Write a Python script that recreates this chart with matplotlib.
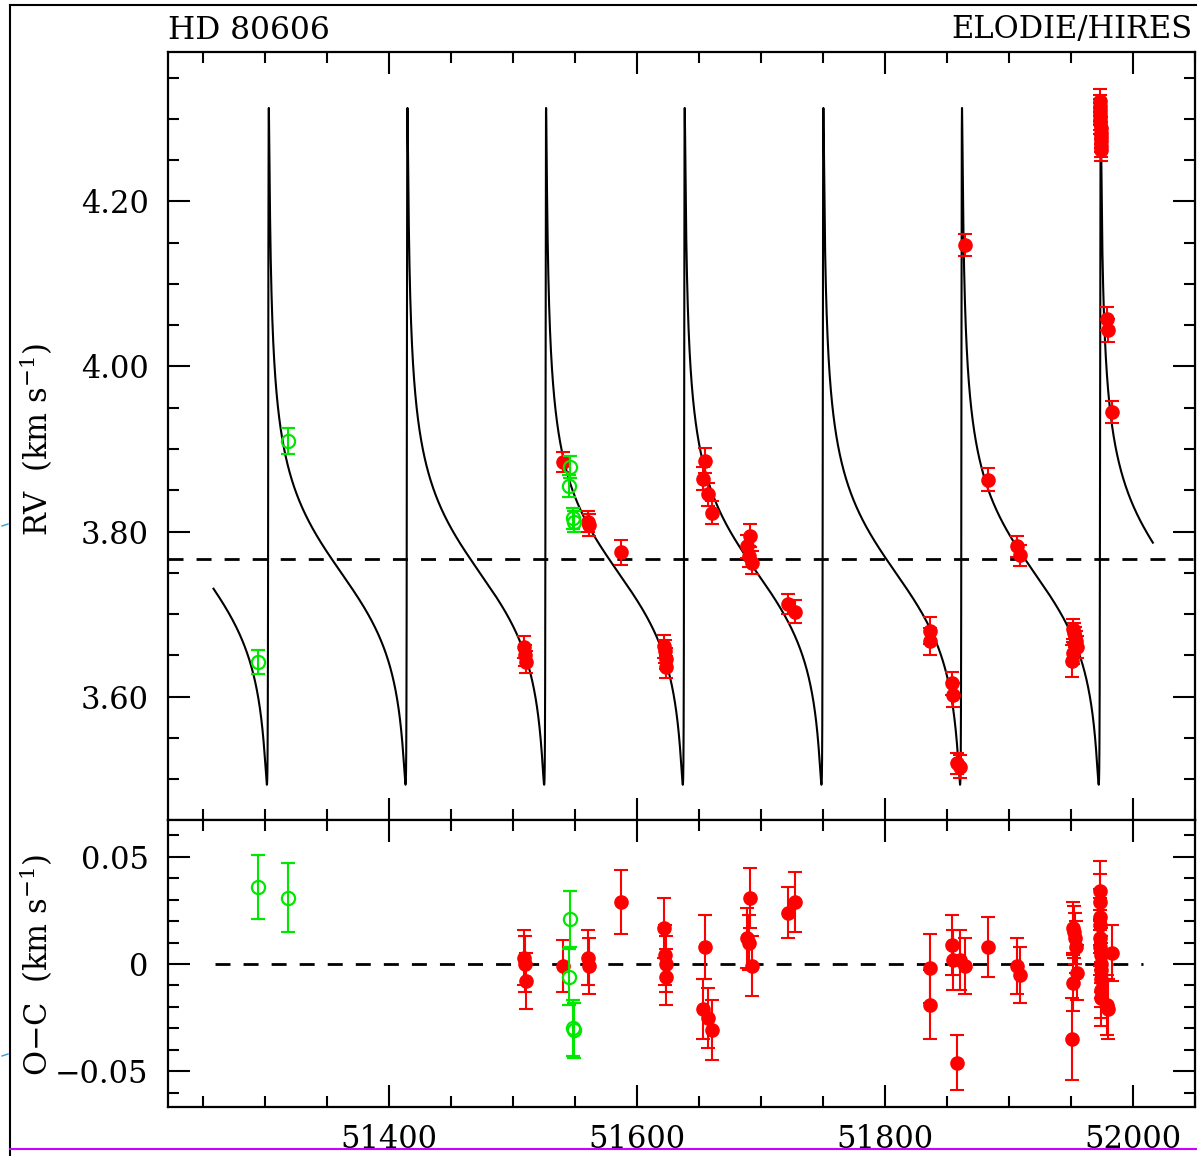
import numpy as np
import matplotlib.pyplot as plt
from matplotlib.lines import Line2D
from matplotlib.ticker import MultipleLocator, FixedLocator, FixedFormatter

plt.rcParams['font.family'] = ['DejaVu Serif']
plt.rcParams['mathtext.fontset'] = 'dejavuserif'

# orbital solution
period = 111.8
ecc = 0.927
omega_deg = 291.0
k_amp = 0.41
t_peri = 51302.7
v_sys = 3.767
model_start = 51258.5
model_end = 52016.0

# ELODIE (open green)
elodie_t = [51294.0, 51318.5, 51546.0, 51545.0, 51548.0, 51549.5]
elodie_rv = [3.642, 3.910, 3.878, 3.855, 3.816, 3.812]
elodie_err = [0.015, 0.016, 0.013, 0.013, 0.013, 0.013]
elodie_oc = [0.036, 0.031, 0.021, -0.006, -0.030, -0.031]

# HIRES (filled red)
hires_t = [51509.0, 51509.8, 51510.5, 51540.3, 51560.5, 51561.0, 51587.1,
           51621.5, 51622.3, 51623.0, 51623.8,
           51654.8, 51653.2, 51657.3, 51660.5,
           51691.1, 51688.7, 51690.3, 51692.7, 51721.8, 51727.4,
           51836.3, 51836.0, 51854.0, 51854.8, 51858.1, 51860.5, 51864.5,
           51883.1, 51906.5, 51908.9,
           51951.6, 51952.4, 51953.2, 51954.0, 51954.8, 51951.8, 51950.8,
           51973.2, 51973.3, 51973.4, 51973.5, 51973.6, 51973.7,
           51973.8, 51973.9, 51974.0, 51974.1, 51974.2, 51974.3,
           51979.0, 51979.8, 51983.1]
hires_rv = [3.660, 3.650, 3.642, 3.884, 3.812, 3.808, 3.775,
            3.661, 3.655, 3.646, 3.636,
            3.886, 3.864, 3.845, 3.823,
            3.795, 3.782, 3.770, 3.762, 3.712, 3.703,
            3.680, 3.667, 3.616, 3.602, 3.519, 3.515, 4.147,
            3.863, 3.782, 3.771,
            3.682, 3.677, 3.672, 3.667, 3.660, 3.653, 3.643,
            4.322, 4.316, 4.311, 4.306, 4.300, 4.295,
            4.289, 4.283, 4.278, 4.273, 4.267, 4.262,
            4.058, 4.044, 3.945]
hires_err = [0.013, 0.013, 0.013, 0.012, 0.013, 0.013, 0.015,
             0.014, 0.014, 0.013, 0.013,
             0.015, 0.014, 0.014, 0.014,
             0.014, 0.014, 0.013, 0.014, 0.012, 0.014,
             0.016, 0.016, 0.014, 0.014, 0.013, 0.014, 0.013,
             0.014, 0.013, 0.013,
             0.012, 0.012, 0.012, 0.012, 0.013, 0.013, 0.019,
             0.014, 0.013, 0.013, 0.013, 0.013, 0.013,
             0.013, 0.013, 0.013, 0.013, 0.013, 0.013,
             0.014, 0.014, 0.013]
hires_oc = [0.003, 0.000, -0.008, -0.001, 0.003, -0.001, 0.029,
            0.017, 0.004, 0.000, -0.006,
            0.008, -0.021, -0.025, -0.031,
            0.031, 0.012, 0.010, -0.001, 0.024, 0.029,
            -0.002, -0.019, 0.009, 0.002, -0.046, 0.002, -0.001,
            0.008, -0.001, -0.005,
            0.017, 0.015, 0.012, 0.008, -0.004, -0.009, -0.035,
            0.034, 0.029, 0.022, 0.018, 0.012, 0.008,
            0.004, 0.000, -0.003, -0.007, -0.012, -0.016,
            -0.019, -0.021, 0.005]

rv_ticks = [3.60, 3.80, 4.00, 4.20]
oc_ticks = [-0.05, 0.0, 0.05]
oc_labels = ['\u22120.05', '0', '0.05']
day_ticks = [51400, 51600, 51800, 52000]

RED = '#ff0000'
GREEN = '#00e800'


def kepler_rv(t):
    m = 2 * np.pi * (t - t_peri) / period
    m = (m + np.pi) % (2 * np.pi) - np.pi
    e_anom = m + 0.85 * ecc * np.sign(np.sin(m))
    for _ in range(60):
        f = e_anom - ecc * np.sin(e_anom) - m
        e_anom = e_anom - f / (1 - ecc * np.cos(e_anom))
    nu = 2 * np.arctan(np.sqrt((1 + ecc) / (1 - ecc)) * np.tan(e_anom / 2))
    w = np.radians(omega_deg)
    return v_sys + k_amp * (np.cos(nu + w) + ecc * np.cos(w))


def style_axis(ax):
    ax.tick_params(which='both', direction='in', top=True, right=True,
                   width=1.5, labelsize=22)
    ax.tick_params(axis='y', pad=14)
    ax.tick_params(axis='x', pad=12)
    ax.tick_params(which='major', length=16)
    ax.tick_params(which='minor', length=8)
    for sp in ax.spines.values():
        sp.set_linewidth(1.6)
    ax.xaxis.set_major_locator(FixedLocator(day_ticks))
    ax.xaxis.set_minor_locator(MultipleLocator(50))


def draw_points(ax, yv, yerr_h, yerr_e, ye):
    ax.errorbar(hires_t, yv, yerr=yerr_h, fmt='o', color=RED, ms=9.5,
                elinewidth=1.5, capsize=5, capthick=1.5, zorder=3)
    ax.errorbar(elodie_t, ye, yerr=yerr_e, fmt='o', color=GREEN, mfc='none',
                mec=GREEN, mew=1.6, ms=9.5, elinewidth=1.5, capsize=5,
                capthick=1.5, zorder=4)


fig = plt.figure(figsize=(11.97, 11.56), dpi=100)
W, H = 1197.0, 1156.0
ax1 = fig.add_axes([168 / W, 1 - 820 / H, 1027 / W, 768 / H])
ax2 = fig.add_axes([168 / W, 1 - 1107 / H, 1027 / W, 287 / H])

# top panel: RV + Keplerian fit
tt = np.linspace(model_start, model_end, 300000)
ax1.plot(tt, kepler_rv(tt), color='black', lw=1.5, zorder=2)
ax1.axhline(v_sys, color='black', lw=2, dashes=(5.4, 4.7), zorder=1)
draw_points(ax1, hires_rv, hires_err, elodie_err, elodie_rv)
ax1.set_xlim(51221.8, 52050)
ax1.set_ylim(3.4505, 4.381)
style_axis(ax1)
ax1.yaxis.set_major_locator(FixedLocator(rv_ticks))
ax1.yaxis.set_minor_locator(MultipleLocator(0.05))
ax1.set_yticklabels(['%.2f' % v for v in rv_ticks])
ax1.tick_params(labelbottom=False)

# bottom panel: residuals
ax2.plot([51260, 52008], [0, 0], color='black', lw=2, dashes=(5.4, 4.7), zorder=1)
draw_points(ax2, hires_oc, hires_err, elodie_err, elodie_oc)
ax2.set_xlim(51221.8, 52050)
ax2.set_ylim(-0.0667, 0.0672)
style_axis(ax2)
ax2.yaxis.set_major_locator(FixedLocator(oc_ticks))
ax2.yaxis.set_major_formatter(FixedFormatter(oc_labels))
ax2.yaxis.set_minor_locator(MultipleLocator(0.01))
ax2.set_xticklabels([str(d) for d in day_ticks])

# labels
fig.text(168 / W, 1 - 39 / H, 'HD 80606', fontsize=22.5, va='baseline', ha='left')
fig.text(1192 / W, 1 - 38 / H, 'ELODIE/HIRES', fontsize=22, va='baseline', ha='right')
fig.text(36 / W, 1 - 439 / H, 'RV  (km s$^{-1}$)', fontsize=22, rotation=90,
         va='center', ha='center')
fig.text(36 / W, 1 - 965 / H, 'O\u2212C  (km s$^{-1}$)', fontsize=22, rotation=90,
         va='center', ha='center')

# screenshot border bits
fig.add_artist(Line2D([10 / W, 1], [1 - 5 / H, 1 - 5 / H], color='black', lw=1.5))
fig.add_artist(Line2D([10 / W, 10 / W], [0, 1 - 5 / H], color='black', lw=1.5))
fig.add_artist(Line2D([10 / W, 1], [1 - 1149 / H, 1 - 1149 / H], color='#cc00ff', lw=1.5))
fig.add_artist(Line2D([2 / W, 8 / W], [1 - 526 / H, 1 - 524 / H], color='#3399dd', lw=1))
fig.add_artist(Line2D([2 / W, 8 / W], [1 - 1056 / H, 1 - 1054 / H], color='#3399dd', lw=1))

fig.savefig('out.png', dpi=100)
